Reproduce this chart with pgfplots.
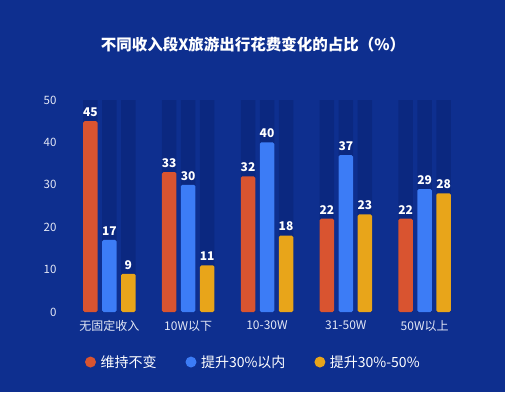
\documentclass[border=0pt]{standalone}
\usepackage{pgfplots}
\pgfplotsset{compat=1.18}
\usepackage{fontspec}
\setmainfont{Noto Sans CJK SC}
\definecolor{bg}{RGB}{14,47,143}
\definecolor{shadow}{RGB}{11,40,128}
\definecolor{cred}{RGB}{217,84,48}
\definecolor{cblue}{RGB}{60,124,246}
\definecolor{cyel}{RGB}{232,165,26}
\definecolor{ticktxt}{RGB}{228,232,245}
\begin{document}
\begin{tikzpicture}
\fill[bg] (0,0) rectangle (505pt,392pt);
\node[text=white, font=\bfseries\fontsize{15.5}{17}\selectfont] at (253pt,347pt) {不同收入段X旅游出行花费变化的占比（\%）};
\begin{axis}[
  at={(66pt,80pt)}, anchor=south west,
  scale only axis, width=402pt, height=212pt,
  xmin=-0.55, xmax=4.55, ymin=0, ymax=50,
  axis line style={draw=none},
  tick style={draw=none},
  ytick={0,10,20,30,40,50},
  xtick={0,1,2,3,4},
  xticklabels={无固定收入,10W以下,10-30W,31-50W,50W以上},
  /pgf/number format/assume math mode=true,
  yticklabel style={text=ticktxt, font=\fontsize{11.5}{12}\selectfont, xshift=-6pt},
  xticklabel style={text=ticktxt, font=\fontsize{12}{13}\selectfont, yshift=-5pt},
  bar width=14.5pt,
  clip=false,
  nodes near coords style={text=white, font=\bfseries\fontsize{12}{13}\selectfont, yshift=1pt},
  legend style={at={(0.466,-0.236)}, anchor=center, draw=none, fill=none, text=white,
    font=\fontsize{14}{16}\selectfont, legend columns=3,
    /tikz/every even column/.append style={column sep=27pt}},
  legend image code/.code={\fill (0cm,0cm) circle (5.5pt); \path (8pt,0pt);},
]
\addplot[ybar, bar shift=-19pt, fill=shadow, draw=none, forget plot] coordinates {(0,50)(1,50)(2,50)(3,50)(4,50)};
\addplot[ybar, bar shift=0pt, fill=shadow, draw=none, forget plot] coordinates {(0,50)(1,50)(2,50)(3,50)(4,50)};
\addplot[ybar, bar shift=19pt, fill=shadow, draw=none, forget plot] coordinates {(0,50)(1,50)(2,50)(3,50)(4,50)};
\addplot[ybar, bar shift=-19pt, fill=cred, draw=none, rounded corners=1.5pt, nodes near coords, every node near coord/.append style={xshift=-19pt}] coordinates {(0,45)(1,33)(2,32)(3,22)(4,22)};
\addplot[ybar, bar shift=0pt, fill=cblue, draw=none, rounded corners=1.5pt, nodes near coords] coordinates {(0,17)(1,30)(2,40)(3,37)(4,29)};
\addplot[ybar, bar shift=19pt, fill=cyel, draw=none, rounded corners=1.5pt, nodes near coords, every node near coord/.append style={xshift=19pt}] coordinates {(0,9)(1,11)(2,18)(3,23)(4,28)};
\legend{维持不变,提升30\%以内,提升30\%-50\%}
\end{axis}
\end{tikzpicture}
\end{document}
